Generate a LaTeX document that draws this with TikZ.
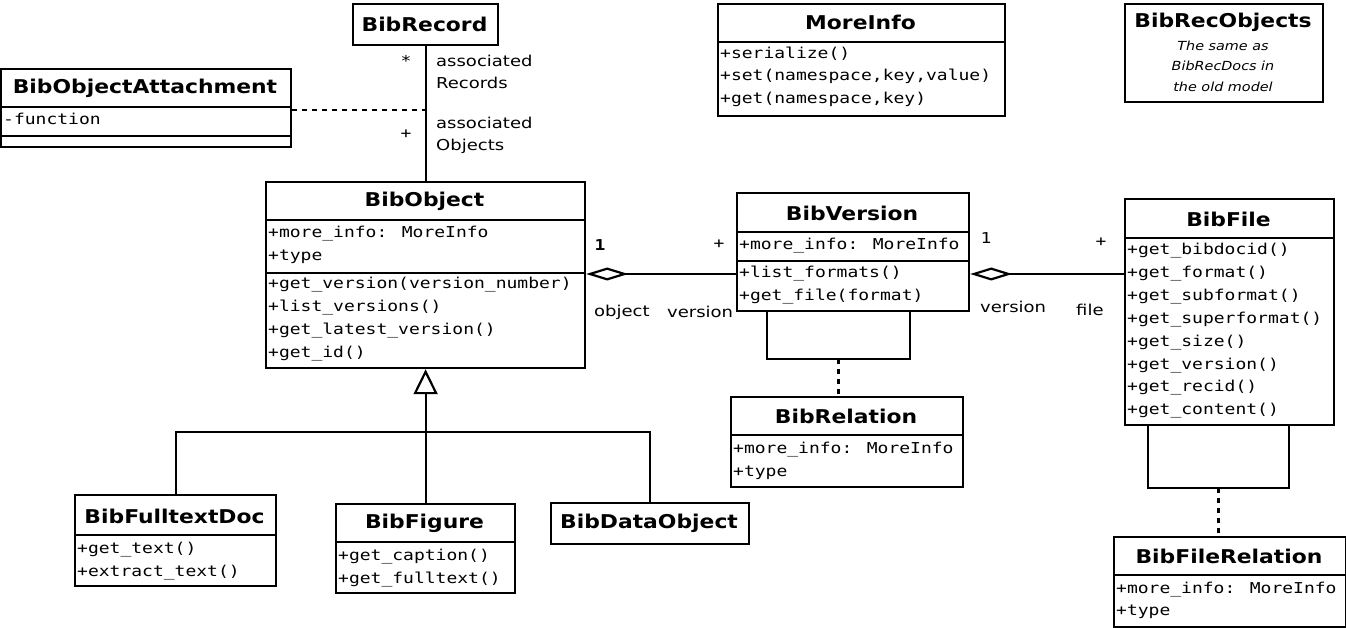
\documentclass[tikz,border=0pt]{standalone}
\usepackage{fontspec}
\usetikzlibrary{arrows.meta}
\newfontfamily\clsfont{DejaVu Sans}[FakeStretch=1.15]
\newfontfamily\memfont{DejaVu Sans Mono}[FakeStretch=1.2]
\newfontfamily\lblfont{DejaVu Sans}[FakeStretch=1.2]
\tikzset{
  classbox/.style={draw, line width=2.2pt, anchor=north west, inner sep=0pt},
  clsname/.style={inner sep=0pt, font=\clsfont\bfseries\fontsize{19}{20}\selectfont},
  member/.style={anchor=west, inner sep=0pt, text height=11pt, text depth=3pt, font=\memfont\fontsize{15}{16}\selectfont},
  note/.style={inner sep=0pt, align=center, font=\clsfont\itshape\fontsize{12.5}{20.5}\selectfont},
  rolelbl/.style={anchor=west, inner sep=0pt, align=left, font=\lblfont\fontsize{15}{22}\selectfont},
  mult/.style={inner sep=0pt, font=\memfont\fontsize{15}{16}\selectfont},
  conn/.style={line width=2.2pt},
  sepline/.style={line width=2.2pt},
  dashline/.style={line width=2.2pt, dash pattern=on 5pt off 5pt},
  aggr/.style={conn, -{Diamond[open, length=42pt, width=13pt]}},
  inherit/.style={conn, -{Triangle[open, length=25pt, width=24pt]}},
}
\begin{document}
\begin{tikzpicture}[x=1pt, y=-1pt]
  \useasboundingbox (0,0) rectangle (1346,628);

  % class boxes
  \node[classbox, minimum width=145pt, minimum height=41pt] (record) at (352,3) {};
  \node[classbox, minimum width=290pt, minimum height=78pt] (attach) at (0,68) {};
  \node[classbox, minimum width=287pt, minimum height=112pt] (moreinfo) at (717,3) {};
  \node[classbox, minimum width=198pt, minimum height=98pt] (recobjects) at (1124,3) {};
  \node[classbox, minimum width=319pt, minimum height=186pt] (object) at (265,181) {};
  \node[classbox, minimum width=232pt, minimum height=118pt] (version) at (736,192) {};
  \node[classbox, minimum width=209pt, minimum height=226pt] (file) at (1124,198) {};
  \node[classbox, minimum width=232pt, minimum height=90pt] (relation) at (730,396) {};
  \node[classbox, minimum width=232pt, minimum height=90pt] (filerel) at (1113,536) {};
  \node[classbox, minimum width=201pt, minimum height=91pt] (fulltext) at (74,494) {};
  \node[classbox, minimum width=179pt, minimum height=89pt] (figure) at (335,503) {};
  \node[classbox, minimum width=198pt, minimum height=41pt] (dataobj) at (550,502) {};

  % compartment lines
  \draw[sepline] (attach.west |- 0,107) -- (attach.east |- 0,107);
  \draw[sepline] (attach.west |- 0,136) -- (attach.east |- 0,136);
  \draw[sepline] (moreinfo.west |- 0,42) -- (moreinfo.east |- 0,42);
  \draw[sepline] (object.west |- 0,220) -- (object.east |- 0,220);
  \draw[sepline] (object.west |- 0,273) -- (object.east |- 0,273);
  \draw[sepline] (version.west |- 0,232) -- (version.east |- 0,232);
  \draw[sepline] (version.west |- 0,261) -- (version.east |- 0,261);
  \draw[sepline] (file.west |- 0,238) -- (file.east |- 0,238);
  \draw[sepline] (relation.west |- 0,435) -- (relation.east |- 0,435);
  \draw[sepline] (filerel.west |- 0,575) -- (filerel.east |- 0,575);
  \draw[sepline] (fulltext.west |- 0,535) -- (fulltext.east |- 0,535);
  \draw[sepline] (figure.west |- 0,542) -- (figure.east |- 0,542);

  % class names
  \node[clsname] (record-name) at (424.5,24) {BibRecord};
  \node[clsname] (attach-name) at (145,88) {BibObjectAttachment};
  \node[clsname] (moreinfo-name) at (860.5,22) {MoreInfo};
  \node[clsname] (recobjects-name) at (1223,22) {BibRecObjects};
  \node[clsname] (object-name) at (424.5,201) {BibObject};
  \node[clsname] (version-name) at (852,213) {BibVersion};
  \node[clsname] (file-name) at (1228.5,219) {BibFile};
  \node[clsname] (relation-name) at (846,416) {BibRelation};
  \node[clsname] (filerel-name) at (1229,556) {BibFileRelation};
  \node[clsname] (fulltext-name) at (174.5,516) {BibFulltextDoc};
  \node[clsname] (figure-name) at (424.5,523) {BibFigure};
  \node[clsname] (dataobj-name) at (649,523) {BibDataObject};
  \node[note] (recobjects-note) at (1223,66) {The same as\\BibRecDocs in\\the old model};

  % members
  \node[member] (attach-a1) at (3,121) {-function};
  \node[member] (moreinfo-o1) at (720,55) {+serialize()};
  \node[member] (moreinfo-o2) at (720,77) {+set(namespace,key,value)};
  \node[member] (moreinfo-o3) at (720,100) {+get(namespace,key)};
  \node[member] (object-a1) at (268,234) {+more\_info: MoreInfo};
  \node[member] (object-a2) at (268,257) {+type};
  \node[member] (object-o1) at (268,285) {+get\_version(version\_number)};
  \node[member] (object-o2) at (268,308) {+list\_versions()};
  \node[member] (object-o3) at (268,330) {+get\_latest\_version()};
  \node[member] (object-o4) at (268,353) {+get\_id()};
  \node[member] (version-a1) at (739,246) {+more\_info: MoreInfo};
  \node[member] (version-o1) at (739,274) {+list\_formats()};
  \node[member] (version-o2) at (739,297) {+get\_file(format)};
  \node[member] (file-o1) at (1127,251) {+get\_bibdocid()};
  \node[member] (file-o2) at (1127,273) {+get\_format()};
  \node[member] (file-o3) at (1127,296) {+get\_subformat()};
  \node[member] (file-o4) at (1127,319) {+get\_superformat()};
  \node[member] (file-o5) at (1127,342) {+get\_size()};
  \node[member] (file-o6) at (1127,365) {+get\_version()};
  \node[member] (file-o7) at (1127,387) {+get\_recid()};
  \node[member] (file-o8) at (1127,410) {+get\_content()};
  \node[member] (relation-a1) at (733,449) {+more\_info: MoreInfo};
  \node[member] (relation-a2) at (733,472) {+type};
  \node[member] (filerel-a1) at (1116,589) {+more\_info: MoreInfo};
  \node[member] (filerel-a2) at (1116,611) {+type};
  \node[member] (fulltext-o1) at (77,549) {+get\_text()};
  \node[member] (fulltext-o2) at (77,572) {+extract\_text()};
  \node[member] (figure-o1) at (338,556) {+get\_caption()};
  \node[member] (figure-o2) at (338,579) {+get\_fulltext()};

  % record <-> object
  \draw[conn] (record.south) -- (object.north);
  \coordinate (assoc-link) at (424.5,110);
  \draw[dashline] (attach.east |- assoc-link) -- (assoc-link);
  \node[mult] (record-mult) at (406,61) {*};
  \node[mult] (object-mult) at (406,134) {+};
  \node[rolelbl] (record-role) at (436,72) {associated\\Records};
  \node[rolelbl] (object-role) at (436,135) {associated\\Objects};

  % object <>- version
  \draw[aggr] (version.west |- 0,274) -- (object.east |- 0,274);
  \node[mult, font=\memfont\bfseries\fontsize{15}{16}\selectfont] (obj-ver-m1) at (600,245) {1};
  \node[mult] (obj-ver-m2) at (719,244) {+};
  \node[rolelbl] (obj-ver-r1) at (594,312) {object};
  \node[rolelbl] (obj-ver-r2) at (667,312) {version};

  % version <>- file
  \draw[aggr] (file.west |- 0,274) -- (version.east |- 0,274);
  \node[mult] (ver-file-m1) at (986,238) {1};
  \node[mult] (ver-file-m2) at (1101,242) {+};
  \node[rolelbl] (ver-file-r1) at (980,307) {version};
  \node[rolelbl] (ver-file-r2) at (1076,310) {file};

  % association classes
  \coordinate (version-loop) at (838.5,359);
  \draw[conn] (version.south -| 767,0) |- (version-loop) -| (version.south -| 910,0);
  \draw[dashline] (version-loop) -- (version-loop |- relation.north);
  \coordinate (file-loop) at (1218.5,488);
  \draw[conn] (file.south -| 1148,0) |- (file-loop) -| (file.south -| 1289,0);
  \draw[dashline] (file-loop) -- (file-loop |- filerel.north);

  % generalization
  \draw[inherit] (figure.north) -- (object.south);
  \draw[conn] (fulltext.north) |- (dataobj.north |- 0,432) -- (dataobj.north);
\end{tikzpicture}
\end{document}
